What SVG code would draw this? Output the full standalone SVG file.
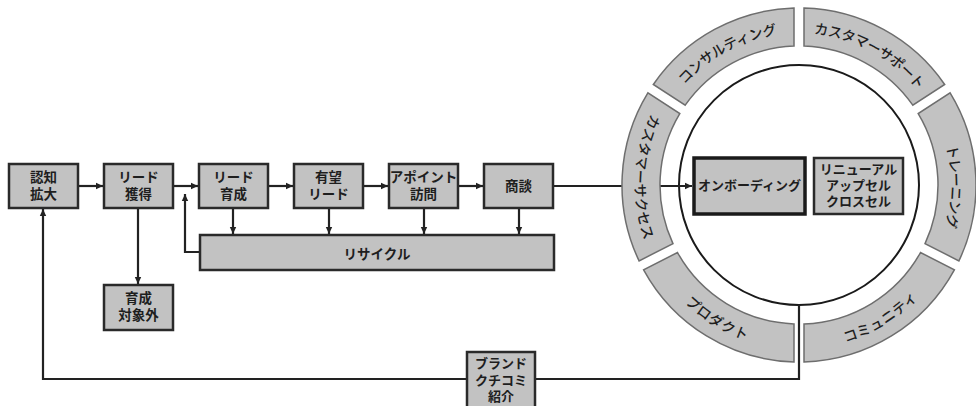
<svg xmlns="http://www.w3.org/2000/svg" width="976" height="406" viewBox="0 0 976 406">
<style>
.box{fill:#c2c2c2;stroke:#2a2a2a;stroke-width:2.5}
.thick{fill:#c2c2c2;stroke:#1a1a1a;stroke-width:3.5}
.seg{fill:#c2c2c2;stroke:#6e6e6e;stroke-width:1.5}
.t{font-family:"Noto Sans CJK JP","Noto Sans CJK SC",sans-serif;font-weight:700;font-size:13.5px;fill:#1e1e1e;text-anchor:middle}
.s{font-size:13px}
.r{font-family:"Noto Sans CJK JP","Noto Sans CJK SC",sans-serif;font-weight:500;font-size:14px;fill:#1e1e1e;text-anchor:middle;dominant-baseline:central}
.c{fill:none;stroke:#222;stroke-width:2.2}
</style>
<defs>
<marker id="ah" markerUnits="userSpaceOnUse" markerWidth="8" markerHeight="8" refX="7" refY="4" orient="auto">
<path d="M0,0.8 L7,4 L0,7.2 Z" fill="#222"/>
</marker>
<path id="pCons" d="M666.49 98.95 A158 158 0 0 1 799 27"/>
<path id="pSup" d="M799 27 A158 158 0 0 1 931.51 98.95"/>
<path id="pTra" d="M931.51 98.95 A158 158 0 0 1 939.78 256.73"/>
<path id="pSuc" d="M666.49 98.95 A158 158 0 0 0 658.22 256.73"/>
<path id="pPro" d="M658.22 256.73 A158 158 0 0 0 799 343"/>
<path id="pCom" d="M799 343 A158 158 0 0 0 939.78 256.73"/>
</defs>

<circle id="core" cx="799" cy="185" r="120" fill="none" stroke="#1a1a1a" stroke-width="2"/>

<g id="connectors">
<path class="c" d="M78 186 H103" marker-end="url(#ah)"/>
<path class="c" d="M173 186 H198" marker-end="url(#ah)"/>
<path class="c" d="M268 186 H293" marker-end="url(#ah)"/>
<path class="c" d="M363 186 H388" marker-end="url(#ah)"/>
<path class="c" d="M458 186 H483" marker-end="url(#ah)"/>
<path class="c" d="M553 186 H692" marker-end="url(#ah)"/>
<path class="c" d="M233 208 V234" marker-end="url(#ah)"/>
<path class="c" d="M329 208 V234" marker-end="url(#ah)"/>
<path class="c" d="M424 208 V234" marker-end="url(#ah)"/>
<path class="c" d="M519 208 V234" marker-end="url(#ah)"/>
<path class="c" d="M138 208 V284" marker-end="url(#ah)"/>
<path class="c" d="M200 252 H185 V194" marker-end="url(#ah)"/>
<path class="c" d="M799 305 V379 H43 V209" marker-end="url(#ah)"/>
</g>

<g id="ring-consulting"><path class="seg" d="M653.33 84.45 A177 177 0 0 1 794 8.07 L794 46.09 A139 139 0 0 0 685.22 105.15 Z"/><text class="r"><textPath href="#pCons" startOffset="50%">コンサルティング</textPath></text></g>
<g id="ring-support"><path class="seg" d="M804 8.07 A177 177 0 0 1 944.67 84.45 L912.78 105.15 A139 139 0 0 0 804 46.09 Z"/><text class="r"><textPath href="#pSup" startOffset="50%">カスタマーサポート</textPath></text></g>
<g id="ring-training"><path class="seg" d="M950.11 92.83 A177 177 0 0 1 958.92 260.87 L925.04 243.61 A139 139 0 0 0 918.22 113.53 Z"/><text class="r"><textPath href="#pTra" startOffset="56%">トレーニング</textPath></text></g>
<g id="ring-community"><path class="seg" d="M954.38 269.78 A177 177 0 0 1 804 361.93 L804 323.91 A139 139 0 0 0 920.50 252.52 Z"/><text class="r"><textPath href="#pCom" startOffset="50%">コミュニティ</textPath></text></g>
<g id="ring-product"><path class="seg" d="M794 361.93 A177 177 0 0 1 643.62 269.78 L677.50 252.52 A139 139 0 0 0 794 323.91 Z"/><text class="r"><textPath href="#pPro" startOffset="50%">プロダクト</textPath></text></g>
<g id="ring-success"><path class="seg" d="M639.08 260.87 A177 177 0 0 1 647.89 92.83 L679.78 113.53 A139 139 0 0 0 672.96 243.61 Z"/><text class="r"><textPath href="#pSuc" startOffset="50%">カスタマーサクセス</textPath></text></g>

<g id="n-ninchi"><rect class="box" x="9" y="164" width="69" height="44"/><text class="t" x="43.5" y="181.5">認知</text><text class="t" x="43.5" y="198.5">拡大</text></g>
<g id="n-kakutoku"><rect class="box" x="104" y="164" width="69" height="44"/><text class="t" x="138.5" y="181.5">リード</text><text class="t" x="138.5" y="198.5">獲得</text></g>
<g id="n-ikusei"><rect class="box" x="199" y="164" width="69" height="44"/><text class="t" x="233.5" y="181.5">リード</text><text class="t" x="233.5" y="198.5">育成</text></g>
<g id="n-yubou"><rect class="box" x="294" y="164" width="69" height="44"/><text class="t" x="328.5" y="181.5">有望</text><text class="t" x="328.5" y="198.5">リード</text></g>
<g id="n-apo"><rect class="box" x="389" y="164" width="69" height="44"/><text class="t" x="423.5" y="181.5">アポイント</text><text class="t" x="423.5" y="198.5">訪問</text></g>
<g id="n-shodan"><rect class="box" x="484" y="164" width="69" height="44"/><text class="t" x="518.5" y="191">商談</text></g>
<g id="n-gai"><rect class="box" x="104" y="285" width="69" height="45"/><text class="t" x="138.5" y="302.5">育成</text><text class="t" x="138.5" y="319.5">対象外</text></g>
<g id="n-recycle"><rect class="box" x="200" y="235" width="354" height="35"/><text class="t" x="377" y="259">リサイクル</text></g>
<g id="n-onboard"><rect class="thick" x="694" y="158" width="111" height="56"/><text class="t s" x="749.5" y="190">オンボーディング</text></g>
<g id="n-renew"><rect class="box" x="814" y="158" width="89" height="56"/><text class="t s" x="858.5" y="174">リニューアル</text><text class="t s" x="858.5" y="190">アップセル</text><text class="t s" x="858.5" y="206">クロスセル</text></g>
<g id="n-brand"><rect class="box" x="467" y="352" width="68" height="62"/><text class="t s" x="501" y="368">ブランド</text><text class="t s" x="501" y="385">クチコミ</text><text class="t s" x="501" y="401">紹介</text></g>
</svg>
